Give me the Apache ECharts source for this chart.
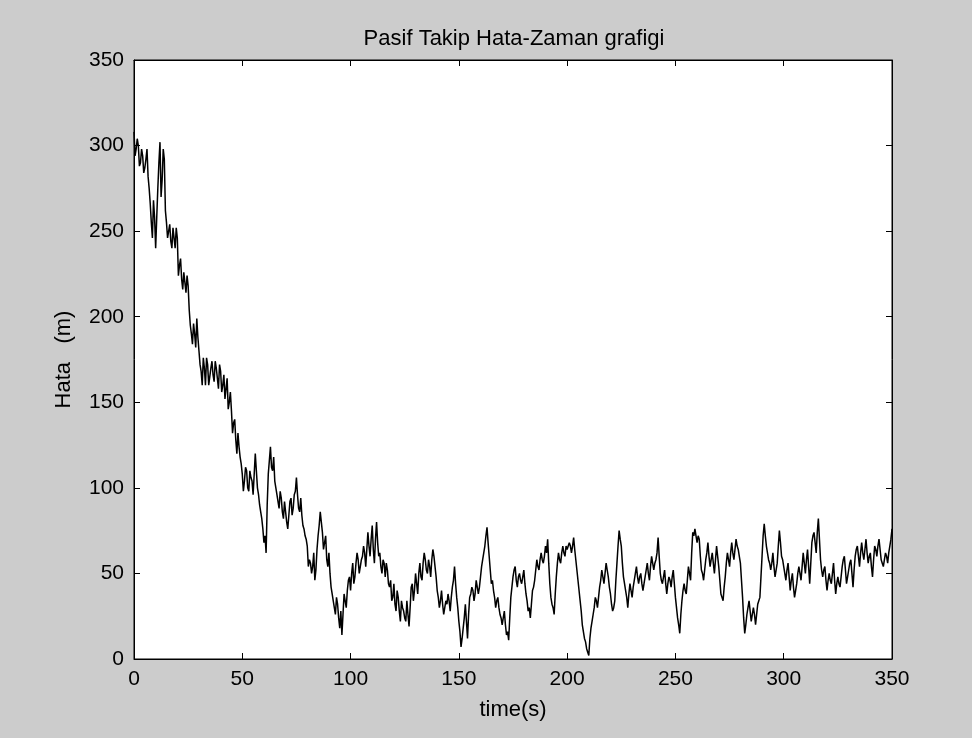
<!DOCTYPE html>
<html>
<head>
<meta charset="utf-8">
<script src="https://cdn.jsdelivr.net/npm/echarts@6/dist/echarts.min.js"></script>
<style>
html,body{margin:0;padding:0;background:#cccccc;}
#chart{width:972px;height:738px;}
</style>
</head>
<body>
<div id="chart"></div>
<script>
// ---- data ----
var chartTitle = 'Pasif Takip Hata-Zaman grafigi';
var xAxisName = 'time(s)';
var yAxisName = 'Hata   (m)';
var xTicks = [0, 50, 100, 150, 200, 250, 300, 350];
var yTicks = [0, 50, 100, 150, 200, 250, 300, 350];
// samples at whole seconds t = 0, 1, 2 ... 350
var hataValues = [
  308,298,300,290,294,287,298,275,255,268,240,
  275,302,280,292,255,250,244,252,240,246,
  230,222,226,214,218,195,184,190,199,180,
  168,176,160,172,165,174,162,170,158,168,
  160,152,164,150,145,138,128,132,118,108,
  104,110,98,106,96,120,100,90,82,68,
  62,108,124,110,104,96,88,94,82,86,
  76,92,84,96,106,88,94,78,72,66,
  58,50,62,52,72,86,74,68,58,62,
  42,34,26,32,18,14,38,30,46,40,
  56,48,62,50,58,66,54,74,60,78,
  56,80,60,54,58,48,52,42,34,44,
  28,36,22,30,24,34,19,42,34,50,
  38,56,46,62,52,58,48,64,54,40,
  30,40,26,34,38,28,42,54,36,22,
  7,18,32,12,36,42,34,46,38,48,
  58,66,77,60,44,40,30,36,26,20,
  28,14,11,36,48,54,42,50,44,52,
  38,28,24,40,46,58,52,62,56,66,
  70,44,32,26,48,62,56,66,60,64,
  68,62,71,58,46,34,20,12,6,2,
  18,26,36,30,42,52,44,56,48,38,
  28,34,56,75,66,48,40,30,44,36,
  46,54,44,50,40,48,56,46,60,52,
  58,71,50,44,52,38,48,42,52,36,
  24,15,34,44,38,54,46,74,76,68,
  70,52,46,58,68,54,62,50,66,54,
  38,34,48,62,54,68,58,70,64,56,
  36,15,26,34,22,30,20,32,36,60,
  79,66,58,52,62,48,56,75,60,54,
  46,56,40,50,36,44,54,46,62,50,
  64,44,68,74,62,82,58,48,54,40,
  50,44,56,38,48,42,54,60,44,52,
  58,42,60,66,54,68,58,70,56,62,
  48,66,60,70,58,54,62,56,66,76
];
// samples at half seconds t = 0.5, 1.5 ... 349.5 (other edge of the noise band)
var hataHalfValues = [
  294,304,288,298,284,292,282,266,246,258,
  258,290,270,298,262,246,254,240,246,252,
  224,234,216,220,224,204,190,196,182,188,
  172,160,170,176,160,170,166,174,164,172,
  156,166,158,146,156,132,140,120,124,114,
  98,112,100,110,104,108,110,96,86,76,
  72,90,116,112,118,100,92,98,86,92,
  80,84,94,88,98,96,86,84,76,70,
  54,56,54,46,64,78,80,64,72,54,
  50,38,30,36,24,28,26,34,40,48,
  50,44,56,58,54,60,62,64,66,70,
  64,70,68,62,50,56,56,44,46,36,
  32,40,28,34,28,22,26,30,44,40,
  44,50,48,56,58,50,54,58,60,48,
  36,34,32,30,32,34,36,46,44,30,
  16,12,24,22,26,38,40,38,42,42,
  54,62,72,68,52,46,36,34,30,24,
  24,20,16,24,42,52,46,48,46,48,
  44,34,30,32,42,52,54,58,58,60,
  62,56,36,30,38,56,58,62,62,66,
  66,66,66,64,52,40,28,16,10,4,
  12,22,30,34,36,46,48,50,52,42,
  32,30,46,66,70,56,44,36,38,40,
  42,50,48,48,44,44,52,50,54,56,
  56,62,60,46,48,44,44,46,48,44,
  30,20,26,40,40,46,50,62,72,72,
  72,60,50,52,62,60,58,56,58,60,
  46,36,42,56,58,62,62,64,66,60,
  46,24,20,30,28,26,26,26,34,48,
  72,72,62,56,56,54,52,66,68,58,
  50,52,48,46,42,40,50,50,54,56,
  58,54,56,72,68,74,70,52,52,46,
  46,46,50,46,44,44,48,58,52,48,
  56,50,52,64,60,62,62,64,62,60,
  54,58,64,66,64,56,58,60,62,70
];

var seriesData = [];
for (var i = 0; i < hataValues.length; i++) {
  seriesData.push([i, hataValues[i]]);
  if (i < hataHalfValues.length) seriesData.push([i + 0.5, hataHalfValues[i]]);
}

var FONT = '"Liberation Sans", Arial, Helvetica, sans-serif';
var chart = echarts.init(document.getElementById('chart'), null, {renderer: 'canvas'});

function xAx(pos, showLabel, name) {
  return {
    type: 'value', position: pos, min: xTicks[0], max: xTicks[xTicks.length - 1],
    interval: xTicks[1] - xTicks[0],
    name: name || '', nameLocation: 'middle', nameGap: 40,
    nameTextStyle: {color: '#000', fontSize: 22, fontFamily: FONT},
    axisLine: {show: true, onZero: false, lineStyle: {color: '#000', width: 1}},
    axisTick: {show: true, inside: true, length: 6, lineStyle: {color: '#000'}},
    axisLabel: {show: showLabel, color: '#000', fontSize: 21, fontFamily: FONT, margin: 10},
    splitLine: {show: false}
  };
}
function yAx(pos, showLabel, name) {
  return {
    type: 'value', position: pos, min: yTicks[0], max: yTicks[yTicks.length - 1],
    interval: yTicks[1] - yTicks[0],
    name: name || '', nameLocation: 'middle', nameGap: 59,
    nameTextStyle: {color: '#000', fontSize: 22, fontFamily: FONT},
    axisLine: {show: true, onZero: false, lineStyle: {color: '#000', width: 1}},
    axisTick: {show: true, inside: true, length: 6, lineStyle: {color: '#000'}},
    axisLabel: {show: showLabel, color: '#000', fontSize: 21, fontFamily: FONT, margin: 10},
    splitLine: {show: false}
  };
}

chart.setOption({
  backgroundColor: '#cccccc',
  animation: false,
  title: {
    text: chartTitle, left: 509, top: 23, textAlign: 'center',
    textStyle: {color: '#000', fontSize: 22, fontWeight: 'normal', fontFamily: FONT}
  },
  grid: {
    left: 134, right: 80, top: 60, bottom: 79, containLabel: false,
    show: true, backgroundColor: '#ffffff', borderColor: '#000', borderWidth: 1
  },
  xAxis: [xAx('bottom', true, xAxisName), xAx('top', false)],
  yAxis: [yAx('left', true, yAxisName), yAx('right', false)],
  series: [{
    type: 'line', xAxisIndex: 0, yAxisIndex: 0,
    data: seriesData, showSymbol: false, symbol: 'none',
    lineStyle: {color: '#000', width: 1.5}
  }]
});
</script>
</body>
</html>
